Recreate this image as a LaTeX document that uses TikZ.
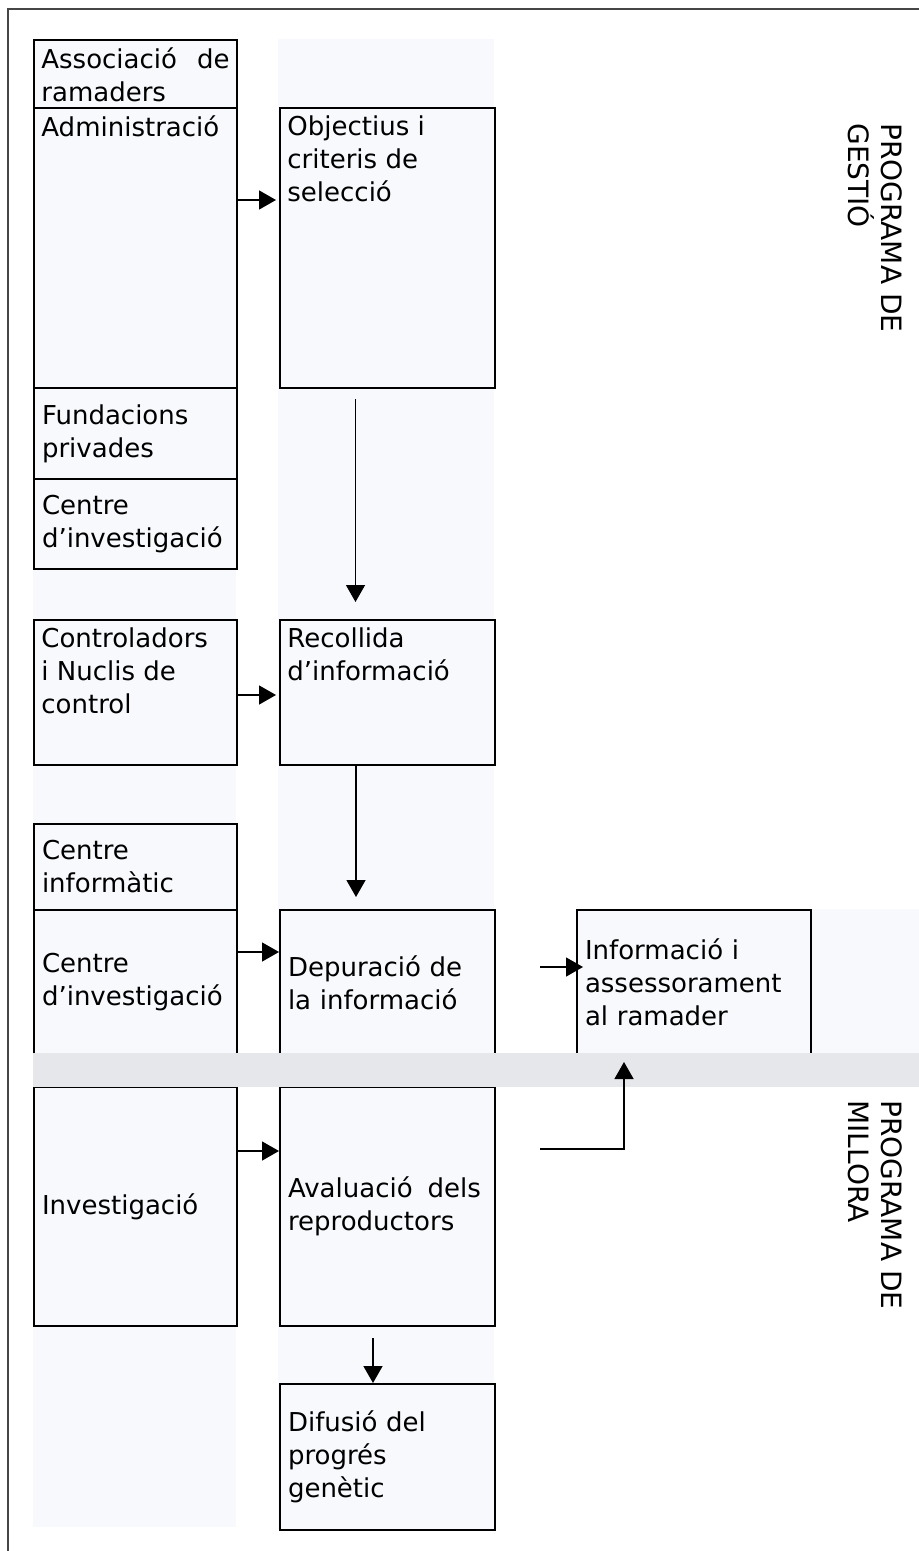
\documentclass[tikz,border=0pt]{standalone}
\usepackage{fontspec}
\setmainfont{DejaVu Sans}
\usetikzlibrary{arrows.meta}

\definecolor{bandfill}{RGB}{247,249,252}
\definecolor{stripfill}{RGB}{230,231,235}
\definecolor{framegray}{RGB}{70,70,70}
\newcommand{\stagefont}{\fontsize{13}{16.5}\selectfont}
\newcommand{\sidefont}{\fontsize{14}{16.5}\selectfont}

\tikzset{
  stage/.style={draw, line width=1pt, fill=bandfill, anchor=north west,
    inner xsep=4pt, inner ysep=0pt, align=left, font=\stagefont},
  lbox/.style={stage, minimum width=101.5pt, text width=93.5pt},
  mbox/.style={stage, minimum width=107.5pt, text width=99.5pt},
  stagetext/.style={anchor=north west, inner xsep=4pt, inner ysep=4pt,
    align=left, font=\stagefont},
  sidetext/.style={rotate=-90, anchor=north west, inner sep=0pt,
    align=left, font=\sidefont},
  flow/.style={-{Triangle[length=8.5pt,width=9.5pt]}, line width=0.7pt}
}

\begin{document}
\begin{tikzpicture}[x=0.5pt, y=-0.5pt]
    \useasboundingbox (0,0) rectangle (919,1551);

    % Frame
    \draw[framegray, line width=1pt] (8,1551) -- (8,9.5) -- (919,9.5);

    % Column bands
    \fill[bandfill] (33,39) rectangle (236,1527);
    \fill[bandfill] (278,39) rectangle (494,1529);
    \fill[bandfill] (576,909) rectangle (919,1054);

    % Left column
    \node[lbox, minimum height=34pt] (assoc) at (33,39) {};
    \node[stagetext] (assoct) at (assoc.north west) {Associació\hspace{10pt}de\\ramaders};
    \node[lbox, minimum height=140pt] (adm) at (33,107) {};
    \node[stagetext] (admt) at (adm.north west) {Administració};
    \node[lbox, minimum height=45.5pt] (fund) at (33,387) {Fundacions\\privades};
    \node[lbox, minimum height=45pt] (cinv) at (33,478) {Centre\\d’investigació};
    \node[lbox, minimum height=72.5pt] (ctrl) at (33,619) {};
    \node[stagetext] (ctrlt) at (ctrl.north west) {Controladors\\i Nuclis de\\control};
    \node[lbox, minimum height=43pt] (cinf) at (33,823) {Centre\\informàtic};
    \node[lbox, minimum height=72.5pt] (cinvb) at (33,909) {Centre\\d’investigació};
    \node[lbox, minimum height=119.5pt] (inv) at (33,1086) {Investigació};

    % Middle column
    \node[mbox, minimum height=140pt] (obj) at (279,107) {};
    \node[stagetext] (objt) at (obj.north west) {Objectius i\\criteris de\\selecció};
    \node[mbox, minimum height=72.5pt] (rec) at (279,619) {};
    \node[stagetext] (rect) at (rec.north west) {Recollida\\d’informació};
    \node[mbox, minimum height=72.5pt] (dep) at (279,909) {Depuració de\\la informació};
    \node[mbox, minimum height=119.5pt] (aval) at (279,1086) {Avaluació\hspace{7.5pt}dels\\reproductors};
    \node[mbox, minimum height=73pt] (dif) at (279,1383) {Difusió del\\progrés\\genètic};

    % Right box
    \node[stage, minimum width=117pt, text width=109pt, minimum height=72.5pt] (info) at (576,909) {Informació i\\assessorament\\al ramader};

    % Strip between the two programmes
    \fill[stripfill] (33,1053) rectangle (919,1087);

    % Arrows
    \draw[flow, shorten >=1.5pt] ([yshift=-46.5pt]adm.north east) -- ([yshift=-46.5pt]obj.north west);
    \draw[flow, shorten <=5pt, shorten >=8.5pt] ([xshift=-16pt]obj.south) -- ([xshift=-16pt]rec.north);
    \draw[flow, shorten >=1.5pt] ([yshift=-38pt]ctrl.north east) -- ([yshift=-38pt]rec.north west);
    \draw[flow, shorten >=6pt] ([xshift=-15.75pt]rec.south) -- ([xshift=-15.75pt]dep.north);
    \draw[flow] ([yshift=-21.5pt]cinvb.north east) -- ([yshift=-21.5pt]dep.north west);
    \draw[flow] ([yshift=-32.5pt]inv.north east) -- ([yshift=-32.5pt]aval.north west);
    \draw[flow, shorten <=22pt, shorten >=-3.5pt] ([yshift=-29pt]dep.north east) -- ([yshift=-29pt]info.north west);
    \draw[flow, shorten <=22pt, shorten >=3pt] ([yshift=-31.5pt]aval.north east) -| ([xshift=24pt]info.south west);
    \draw[flow, shorten <=5.5pt] ([xshift=-7.25pt]aval.south) -- ([xshift=-7.25pt]dif.north);

    % Programme labels
    \node[sidetext] (gestio) at (903,123) {PROGRAMA DE\\GESTIÓ};
    \node[sidetext] (millora) at (903,1100) {PROGRAMA DE\\MILLORA};

\end{tikzpicture}
\end{document}
